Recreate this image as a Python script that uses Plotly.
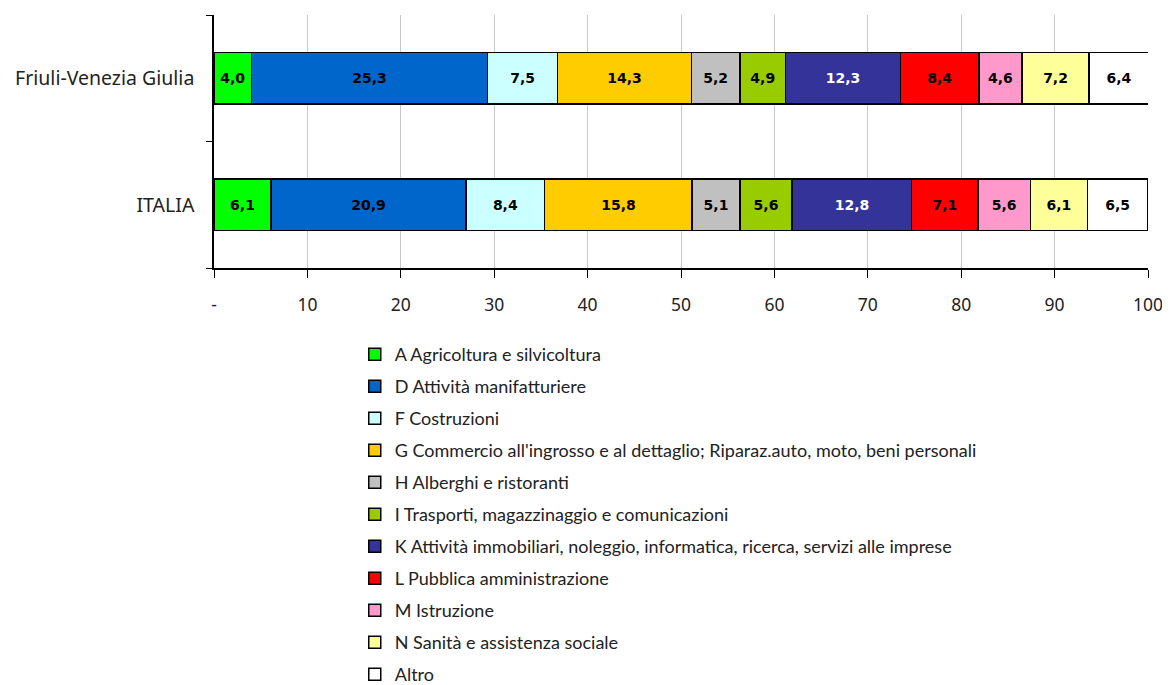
import plotly.graph_objects as go

regions = ["ITALIA", "Friuli-Venezia Giulia"]
sectors = [
    "A Agricoltura e silvicoltura",
    "D Attività manifatturiere",
    "F Costruzioni",
    "G Commercio all'ingrosso e al dettaglio; Riparaz.auto, moto, beni personali",
    "H Alberghi e ristoranti",
    "I Trasporti, magazzinaggio e comunicazioni",
    "K Attività immobiliari, noleggio, informatica, ricerca, servizi alle imprese",
    "L Pubblica amministrazione",
    "M Istruzione",
    "N Sanità e assistenza sociale",
    "Altro",
]
italia = [6.1, 20.9, 8.4, 15.8, 5.1, 5.6, 12.8, 7.1, 5.6, 6.1, 6.5]
fvg = [4.0, 25.3, 7.5, 14.3, 5.2, 4.9, 12.3, 8.4, 4.6, 7.2, 6.4]
colors = ["#00FF00", "#0066CC", "#CCFFFF", "#FFCC00", "#C0C0C0", "#99CC00",
          "#333399", "#FF0000", "#FF99CC", "#FFFF99", "#FFFFFF"]
text_colors = ["black"] * 6 + ["white"] + ["black"] * 4
tick_vals = [0, 10, 20, 30, 40, 50, 60, 70, 80, 90, 100]
tick_text = ["-", "10", "20", "30", "40", "50", "60", "70", "80", "90", "100"]

fig = go.Figure()
for i, name in enumerate(sectors):
    vals = [italia[i], fvg[i]]
    fig.add_trace(go.Bar(
        y=regions, x=vals, name=name, orientation="h",
        marker=dict(color=colors[i], line=dict(color="black", width=1.5)),
        text=[f"{v:.1f}".replace(".", ",") for v in vals],
        textposition="inside", insidetextanchor="middle", textangle=0,
        textfont=dict(family="DejaVu Sans", size=14, color=text_colors[i], weight="bold"),
        legendgroup=f"g{i}",
        width=0.41,
    ))

fig.update_layout(
    barmode="stack",
    width=1162, height=700,
    margin=dict(l=204, r=22, t=7, b=440),
    plot_bgcolor="white", paper_bgcolor="white",
    showlegend=True,
    uniformtext=dict(mode="show", minsize=14),
    legend=dict(
        orientation="v", traceorder="grouped", x=0.1507, xanchor="left",
        y=-0.269, yanchor="top", tracegroupgap=5.6, maxheight=1000,
        font=dict(family="Lato", size=18, color="#222222"),
        itemwidth=30,
    ),
)
fig.update_xaxes(
    range=[0, 100], tickvals=tick_vals, ticktext=tick_text,
    showgrid=True, gridcolor="#C8C8C8", gridwidth=1,
    showline=True, linecolor="black", linewidth=1.5,
    ticks="outside", ticklen=8, tickcolor="black",
    ticklabelstandoff=12,
    tickfont=dict(family="Noto Sans", size=17.5, color="#222222"),
    zeroline=False,
)
fig.update_yaxes(
    showline=True, linecolor="black", linewidth=1.5,
    ticks="outside", ticklen=6, tickcolor="black", tickson="boundaries",
    ticklabelstandoff=14,
    tickfont=dict(family="Noto Sans", size=19.5, color="#222222"),
    showgrid=False,
)

fig.write_html("out.html")
